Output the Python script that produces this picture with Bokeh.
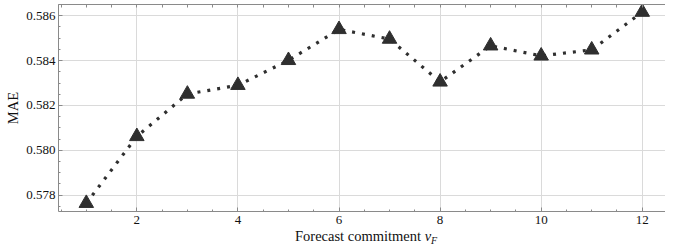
import numpy as np
from bokeh.plotting import figure
from bokeh.layouts import column
from bokeh.models import (FixedTicker, LinearAxis, Range1d, ColumnDataSource, Div)
from bokeh.embed import file_html
from bokeh.resources import INLINE

# ---- data ----
commitment = [1, 2, 3, 4, 5, 6, 7, 8, 9, 10, 11, 12]
mae = [0.57764, 0.58062, 0.58251, 0.58290, 0.58401, 0.58539,
       0.58496, 0.58305, 0.58466, 0.58421, 0.58448, 0.58616]
x_ticks = [2, 4, 6, 8, 10, 12]
y_ticks = [0.578, 0.580, 0.582, 0.584, 0.586]
y_tick_labels = ["0.578", "0.580", "0.582", "0.584", "0.586"]
x_title = "Forecast commitment"
x_title_var, x_title_sub = "v", "F"
y_title = "MAE"

FONT = "Liberation Serif"
SPINE = "#8a8a8a"
INK = "#2f2f2f"
TXT = "#111111"

x_minor = list(np.arange(0.5, 12.51, 0.5))
y_minor = list(np.round(np.arange(0.5770, 0.58651, 0.0005), 5))

p = figure(width=665, height=231, output_backend="svg", toolbar_location=None,
           x_range=Range1d(0.45, 12.46), y_range=Range1d(0.577273, 0.5865),
           min_border_left=58, min_border_right=0, min_border_top=4,
           min_border_bottom=20)
p.outline_line_color = None
p.background_fill_color = "white"
p.border_fill_color = "white"

xt = FixedTicker(ticks=x_ticks, minor_ticks=x_minor)
yt = FixedTicker(ticks=y_ticks, minor_ticks=y_minor)


def style_axis(ax):
    ax.axis_line_color = SPINE
    ax.axis_line_width = 1
    ax.major_tick_line_color = SPINE
    ax.minor_tick_line_color = SPINE
    ax.major_tick_in = 4
    ax.major_tick_out = 0
    ax.minor_tick_in = 2
    ax.minor_tick_out = 0
    ax.major_label_text_font = FONT
    ax.major_label_text_font_style = "normal"
    ax.major_label_text_font_size = "13px"
    ax.major_label_text_color = TXT
    ax.major_label_standoff = 4


p.xaxis.ticker = xt
p.yaxis.ticker = yt
p.yaxis.major_label_overrides = {v: s for v, s in zip(y_ticks, y_tick_labels)}
style_axis(p.xaxis[0])
style_axis(p.yaxis[0])
p.xaxis.major_label_text_font = FONT
p.yaxis.major_label_text_font = FONT
p.yaxis.major_label_standoff = 3
p.yaxis.axis_label = y_title
p.yaxis.axis_label_text_font = FONT
p.yaxis.axis_label_text_font_style = "normal"
p.yaxis.axis_label_text_font_size = "14.5px"
p.yaxis.axis_label_text_color = TXT
p.yaxis.axis_label_standoff = 2

# top spine with tick marks only (no labels)
top = LinearAxis(ticker=FixedTicker(ticks=[], minor_ticks=sorted(x_minor)))
style_axis(top)
top.minor_tick_in = 3
top.major_label_standoff = 0
p.add_layout(top, "above")

p.xgrid.ticker = xt
p.ygrid.ticker = yt
p.xgrid.grid_line_color = "#dadada"
p.ygrid.grid_line_color = "#dadada"

src = ColumnDataSource(dict(x=commitment, y=mae))
p.line("x", "y", source=src, line_color=INK, line_width=3.2,
       line_dash="3 7", line_cap="butt")
p.scatter("x", "y", source=src, marker="triangle", size=14.5,
          fill_color=INK, line_color=INK, line_width=1)

xlabel = Div(
    text=(f"{x_title} <i>{x_title_var}</i>"
          f"<span style='font-size:10px;position:relative;top:3px'><i>{x_title_sub}</i></span>"),
    width=665, height=11, margin=0,
    styles={"font-family": "'Liberation Serif', serif", "font-size": "14.5px",
            "line-height": "11px", "color": TXT, "padding-left": "295px",
            "white-space": "nowrap", "box-sizing": "border-box"})

layout = column(p, xlabel, spacing=0)
open("out.html", "w").write(file_html(layout, INLINE))
